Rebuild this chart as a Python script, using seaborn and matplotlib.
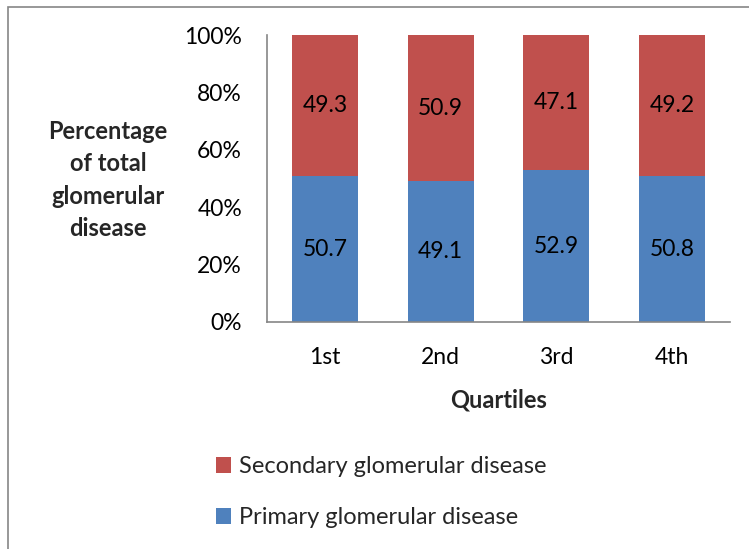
import matplotlib
matplotlib.use("Agg")
import matplotlib.pyplot as plt
from matplotlib.patches import Rectangle, Patch
import seaborn as sns
import pandas as pd

quartiles = ["1st", "2nd", "3rd", "4th"]
primary = [50.7, 49.1, 52.9, 50.8]
secondary = [49.3, 50.9, 47.1, 49.2]
y_ticks = [0, 20, 40, 60, 80, 100]
y_tick_labels = ["0%", "20%", "40%", "60%", "80%", "100%"]

RED = "#C0504D"
BLUE = "#4F81BD"

sns.set_theme(style="white")
plt.rcParams["font.family"] = ["Lato", "DejaVu Sans"]

df = pd.DataFrame({"Quartile": quartiles, "Primary": primary, "Secondary": secondary})
df["Total"] = df["Primary"] + df["Secondary"]

W, H = 749, 549
FS = 16.5
fig = plt.figure(figsize=(W / 100, H / 100), dpi=100)
ax = fig.add_axes([267 / W, 1 - 322 / H, (730 - 267) / W, (322 - 35) / H])

sns.barplot(data=df, x="Quartile", y="Total", color=RED, width=0.57,
            saturation=1, ax=ax, edgecolor="none")
sns.barplot(data=df, x="Quartile", y="Primary", color=BLUE, width=0.57,
            saturation=1, ax=ax, edgecolor="none")

ax.set_xlim(-0.5, len(quartiles) - 0.5)
ax.set_ylim(0, 100)
ax.set_yticks(y_ticks)
ax.set_yticklabels(y_tick_labels, fontsize=FS, color="#000000")
ax.tick_params(axis="x", labelsize=FS, colors="#000000", length=0, pad=18)
ax.tick_params(axis="y", length=0, pad=18)

for side in ["top", "right"]:
    ax.spines[side].set_visible(False)
for side in ["left", "bottom"]:
    ax.spines[side].set_color("#868686")
    ax.spines[side].set_linewidth(1.2)

ax.set_xlabel("Quartiles", fontsize=17, fontweight="bold", labelpad=15)
ax.set_ylabel("")

# segment value labels
for i, (p, s) in enumerate(zip(primary, secondary)):
    ax.text(i, p / 2, f"{p:.1f}", ha="center", va="center", fontsize=FS, color="#000000")
    ax.text(i, p + s / 2, f"{s:.1f}", ha="center", va="center", fontsize=FS, color="#000000")

fig.text(108 / W, 1 - 180 / H, "Percentage\nof total\nglomerular\ndisease",
         ha="center", va="center", fontsize=17, fontweight="bold",
         linespacing=1.5, multialignment="center")

handles = [Patch(facecolor=RED, edgecolor="none"), Patch(facecolor=BLUE, edgecolor="none")]
labels = ["Secondary glomerular disease", "Primary glomerular disease"]
fig.legend(handles, labels, loc="upper left", bbox_to_anchor=(216 / W, 1 - 456 / H),
           frameon=False, fontsize=17, handlelength=0.64, handleheight=0.64,
           handletextpad=0.34, labelspacing=1.28, borderaxespad=0, borderpad=0)

# chart frame
fig.patches.append(Rectangle((8 / W, -0.1), 1.2, 1 - 7 / H + 0.1, transform=fig.transFigure,
                             fill=False, edgecolor="#868686", linewidth=1.2))

fig.savefig("out.png", dpi=100)
